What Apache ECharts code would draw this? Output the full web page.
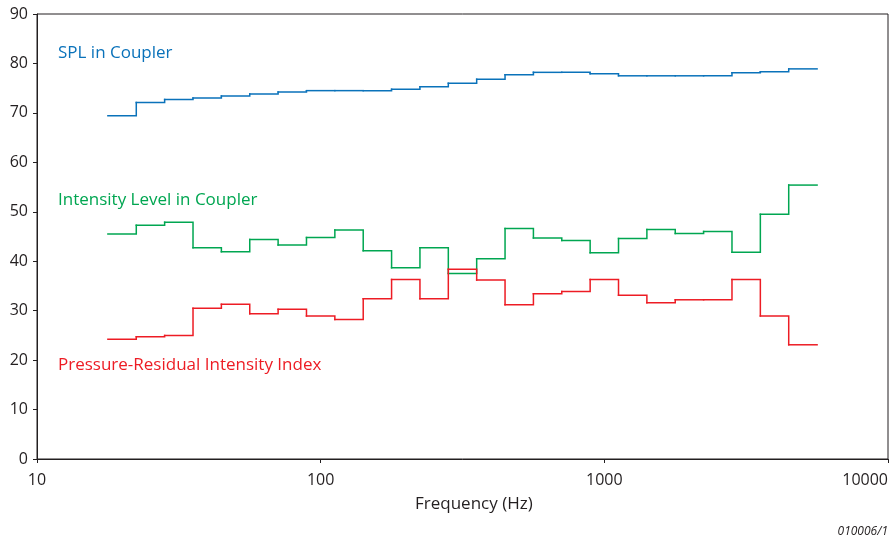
<!DOCTYPE html>
<html>
<head>
<meta charset="utf-8">
<script src="https://cdn.jsdelivr.net/npm/echarts@6/dist/echarts.min.js"></script>
<style>
html, body { margin: 0; padding: 0; background: #fff; }
#chart { width: 892px; height: 540px; }
</style>
</head>
<body>
<div id="chart"></div>
<script>
var chart = echarts.init(document.getElementById('chart'));

// third-octave band centres (Hz)
var bands = ['20', '25', '31.5', '40', '50', '63', '80', '100', '125', '160', '200', '250', '315',
    '400', '500', '630', '800', '1000', '1250', '1600', '2000', '2500', '3150', '4000', '5000'];

var splCoupler = [69.4, 72.1, 72.7, 73.0, 73.4, 73.8, 74.2, 74.5, 74.5, 74.5, 74.8, 75.3, 76.0,
    76.8, 77.7, 78.2, 78.2, 77.9, 77.5, 77.5, 77.5, 77.5, 78.1, 78.3, 78.9];

var intensityCoupler = [45.5, 47.3, 47.9, 42.7, 41.9, 44.4, 43.3, 44.8, 46.3, 42.1, 38.7, 42.7, 37.5,
    40.5, 46.6, 44.7, 44.2, 41.7, 44.6, 46.4, 45.6, 46.0, 41.8, 49.5, 55.4];

var residualIndex = [24.2, 24.7, 25.0, 30.5, 31.3, 29.4, 30.3, 28.9, 28.2, 32.4, 36.3, 32.4, 38.4,
    36.2, 31.2, 33.4, 33.9, 36.3, 33.1, 31.6, 32.2, 32.2, 36.3, 28.9, 23.1];

var yTicks = [0, 10, 20, 30, 40, 50, 60, 70, 80, 90];
var xTicks = [10, 100, 1000, 10000];

// band edges: lower edge of band k is 10^(1.25 + 0.1k)
function edge(k) {
    return Math.pow(10, 1.25 + 0.1 * k);
}

// one item per band: [low edge, high edge, level, level of next band]
function bandItems(values) {
    var items = [];
    for (var k = 0; k < values.length; k++) {
        var next = k < values.length - 1 ? values[k + 1] : '-';
        items.push([edge(k), edge(k + 1), values[k], next]);
    }
    return items;
}

// draw a band's level plus the riser to the next band
function stairSeries(name, values, color) {
    return {
        name: name,
        type: 'custom',
        data: bandItems(values),
        encode: { x: [0, 1], y: [2, 3] },
        clip: true,
        renderItem: function (params, api) {
            var v = api.value(2);
            var pts = [
                api.coord([api.value(0), v]),
                api.coord([api.value(1), v])
            ];
            var next = api.value(3);
            if (!isNaN(next)) {
                pts.push(api.coord([api.value(1), next]));
            }
            return {
                type: 'polyline',
                shape: { points: pts },
                style: { stroke: color, lineWidth: 1.5, fill: null, lineJoin: 'miter', lineCap: 'square' }
            };
        }
    };
}

var ink = '#231f20';
var fontFam = '"Open Sans", "Noto Sans", sans-serif';

option = {
    animation: false,
    grid: {
        left: 37,
        right: 4,
        top: 14,
        bottom: 81,
        outerBoundsMode: 'none',
        containLabel: false,
        show: true,
        borderColor: ink,
        borderWidth: 1
    },
    xAxis: {
        type: 'log',
        logBase: 10,
        min: xTicks[0],
        max: xTicks[xTicks.length - 1],
        axisLine: {
            show: true,
            lineStyle: { color: ink, width: 1 }
        },
        axisTick: {
            show: true,
            length: 4,
            lineStyle: { color: ink }
        },
        minorTick: { show: false },
        splitLine: { show: false },
        axisLabel: {
            color: ink,
            fontSize: 16,
            fontFamily: fontFam,
            margin: 13,
            alignMaxLabel: 'right',
            formatter: function (v) {
                return xTicks.indexOf(Math.round(v)) >= 0 ? String(Math.round(v)) : '';
            }
        }
    },
    yAxis: {
        type: 'value',
        min: yTicks[0],
        max: yTicks[yTicks.length - 1],
        interval: 10,
        axisLine: {
            show: true,
            lineStyle: { color: ink, width: 1 }
        },
        axisTick: {
            show: true,
            length: 4,
            lineStyle: { color: ink }
        },
        splitLine: { show: false },
        axisLabel: {
            color: ink,
            fontSize: 16,
            fontFamily: fontFam,
            margin: 9
        }
    },
    graphic: [
        {
            type: 'text',
            left: 58,
            top: 45,
            style: { text: 'SPL in Coupler', fill: '#0a72ba', fontSize: 17, fontFamily: fontFam }
        },
        {
            type: 'text',
            left: 58,
            top: 192,
            style: { text: 'Intensity Level in Coupler', fill: '#00a651', fontSize: 17, fontFamily: fontFam }
        },
        {
            type: 'text',
            left: 58,
            top: 357,
            style: { text: 'Pressure-Residual Intensity Index', fill: '#ed1c24', fontSize: 17, fontFamily: fontFam }
        },
        {
            type: 'text',
            left: 415,
            top: 496,
            style: { text: 'Frequency (Hz)', fill: ink, fontSize: 17, fontFamily: fontFam }
        },
        {
            type: 'text',
            right: 4,
            top: 526,
            style: { text: '010006/1', fill: ink, fontSize: 12, fontStyle: 'italic', fontFamily: fontFam }
        }
    ],
    series: [
        stairSeries('SPL in Coupler', splCoupler, '#0a72ba'),
        stairSeries('Intensity Level in Coupler', intensityCoupler, '#00a651'),
        stairSeries('Pressure-Residual Intensity Index', residualIndex, '#ed1c24')
    ]
};

chart.setOption(option);
</script>
</body>
</html>
